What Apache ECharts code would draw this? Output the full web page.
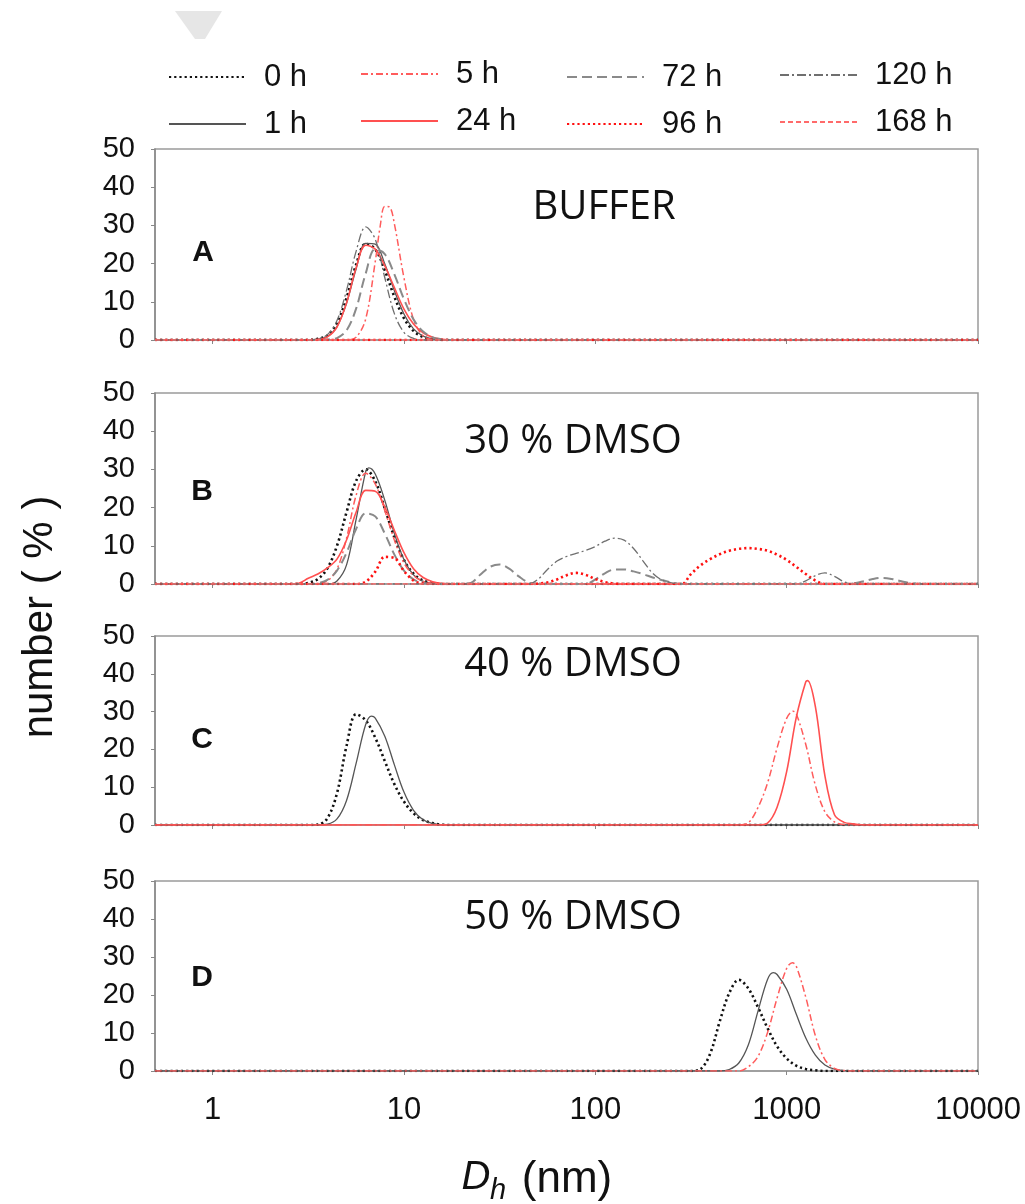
<!DOCTYPE html>
<html><head><meta charset="utf-8">
<script src="https://cdn.jsdelivr.net/npm/echarts@6/dist/echarts.min.js"></script>
<style>html,body{margin:0;padding:0;background:#fff}#c{width:1025px;height:1204px}</style>
</head><body><div id="c"></div>
<script>
// ---------- labels / ticks ----------
const panelTitles  = ['BUFFER', '30 % DMSO', '40 % DMSO', '50 % DMSO'];
const panelLetters = ['A', 'B', 'C', 'D'];
const xTickValues  = [1, 10, 100, 1000, 10000];
const seriesNames  = ['0 h', '1 h', '5 h', '24 h', '72 h', '96 h', '120 h', '168 h'];

// ---------- data: [Dh (nm), number %] ----------
// Panel A (buffer)
const A_0h   = [[3.162,0],[3.548,0.3],[3.981,1.2],[4.467,4.4],[5.012,11.0],[5.623,19.7],[6.31,25.2],[7.079,23.8],[7.943,18.2],[8.913,11.3],[10,5.7],[11.22,2.4],[12.59,0.8],[14.13,0.2],[15.85,0]];
const A_1h   = [[3.162,0],[3.548,0.2],[3.981,0.9],[4.467,3.5],[5.012,9.6],[5.623,18.6],[6.31,25.3],[7.079,25.1],[7.943,19.9],[8.913,12.9],[10,6.8],[11.22,2.9],[12.59,1.0],[14.13,0.3],[15.85,0]];
const A_5h   = [[5.012,0],[5.623,0.7],[6.31,5.5],[7.079,20.5],[7.499,29.5],[7.943,35.0],[8.414,34.8],[8.913,30.4],[10,16.3],[11.22,5.4],[12.59,1.1],[14.13,0.1],[15.85,0]];
const A_24h  = [[3.162,0],[3.548,0.1],[3.981,0.8],[4.467,3.4],[5.012,9.7],[5.623,18.9],[6.31,24.8],[7.079,23.8],[7.943,19.4],[8.913,13.7],[10,8.1],[11.22,4.2],[12.59,1.9],[14.13,0.7],[15.85,0.2],[17.78,0]];
const A_72h  = [[3.548,0],[3.981,0.1],[4.467,0.5],[5.012,2.5],[5.623,8.2],[6.31,17.4],[7.079,23.8],[7.943,22.5],[8.913,17.2],[10,10.7],[11.22,5.4],[12.59,2.2],[14.13,0.7],[15.85,0.2],[17.78,0]];
const A_96h  = [];
const A_120h = [[3.162,0],[3.548,0.3],[3.981,1.4],[4.467,5.1],[5.012,13.0],[5.623,23.2],[6.31,29.6],[7.079,26.4],[7.943,16.3],[8.913,6.9],[10,2.0],[11.22,0.4],[12.59,0]];
const A_168h = [];

// Panel B (30 % DMSO)
const B_0h   = [[2.818,0],[3.162,0.3],[3.548,1.3],[3.981,4.1],[4.467,10.0],[5.012,18.8],[5.623,27.0],[6.31,30.0],[7.079,26.9],[7.943,19.8],[8.913,12.2],[10,6.3],[11.22,2.7],[12.59,0.9],[14.13,0.3],[15.85,0]];
const B_1h   = [[3.981,0],[4.467,0.8],[5.012,5.0],[5.623,16.9],[6.31,29.4],[6.55,30.4],[7.079,28.8],[7.943,21.9],[8.913,13.2],[10,6.4],[11.22,2.4],[12.59,0.7],[14.13,0.2],[15.85,0]];
const B_5h   = [[3.162,0],[3.548,0.1],[3.981,0.8],[4.467,3.9],[5.012,12.0],[5.623,23.2],[6.31,29.0],[7.079,26.2],[7.943,19.2],[8.913,11.5],[10,5.5],[11.22,2.2],[12.59,0.7],[14.13,0.2],[15.85,0]];
const B_24h  = [[2.512,0],[2.818,0.2],[3.162,1.5],[3.548,2.6],[3.981,4.2],[4.467,6.5],[5.012,11.5],[5.623,18.8],[6.31,24.5],[7.079,24.3],[7.943,20.1],[8.913,14.0],[10,8.2],[11.22,4.0],[12.59,1.7],[14.13,0.6],[15.85,0.1],[17.78,0]];
const B_72h  = [[3.162,0],[3.548,0.2],[3.981,1.1],[4.467,3.5],[5.012,8.2],[5.623,14.4],[6.31,18.5],[7.079,17.7],[7.943,13.2],[8.913,7.7],[10,3.5],[11.22,1.2],[12.59,0.3],[14.13,0],
                [19.95,0],[22.39,0.3],[25.12,2.5],[28.18,4.5],[31.62,5.1],[35.48,4.0],[39.81,2.0],[44.67,0.4],[50.12,0],
                [89.13,0],[100,1.2],[112.2,2.8],[125.9,3.8],[141.3,3.8],[158.5,3.3],[177.8,2.6],[199.5,1.7],[223.9,1.0],[251.2,0.4],[281.8,0],
                [1995,0],[2239,0.2],[2512,0.7],[2818,1.3],[3162,1.6],[3548,1.3],[3981,0.7],[4467,0.2],[5012,0]];
const B_96h  = [[5.623,0],[6.31,0.6],[7.079,3.2],[7.943,7.1],[8.913,6.8],[10,3.4],[11.22,0.9],[12.59,0.1],[14.13,0],
                [44.67,0],[50.12,0.1],[56.23,0.4],[63.1,1.2],[70.79,2.3],[79.43,2.9],[89.13,2.4],[100,1.3],[112.2,0.5],[125.9,0.1],[141.3,0],
                [281.8,0],[316.2,2.6],[354.8,4.9],[398.1,6.5],[446.7,7.8],[501.2,8.7],[562.3,9.2],[631,9.4],[707.9,9.2],[794.3,8.7],[891.3,7.7],[1000,6.3],[1122,4.5],[1259,2.6],[1413,0.9],[1585,0]];
const B_120h = [[44.67,0],[50.12,1.2],[56.23,3.8],[63.1,6.0],[70.79,7.2],[79.43,8.0],[89.13,8.8],[100,9.8],[112.2,11.2],[125.9,12.0],[141.3,11.5],[158.5,9.3],[177.8,6.0],[199.5,2.8],[223.9,1.0],[251.2,0.3],[281.8,0],
                [1122,0],[1259,0.8],[1413,2.2],[1585,2.9],[1778,2.0],[1995,0.6],[2239,0]];
const B_168h = [];

// Panel C (40 % DMSO)
const C_0h   = [[3.162,0],[3.548,0.1],[3.981,1.8],[4.467,8.4],[5.012,20.9],[5.623,29.3],[6.31,27.7],[7.079,23.1],[7.943,16.9],[8.913,10.8],[10,6.2],[11.22,3.1],[12.59,1.3],[14.13,0.5],[15.85,0.1],[17.78,0]];
const C_1h   = [[3.548,0],[3.981,0.2],[4.467,1.6],[5.012,6.5],[5.623,16.3],[6.31,26.6],[6.761,28.8],[7.079,28.3],[7.943,23.5],[8.913,15.9],[10,8.7],[11.22,3.9],[12.59,1.4],[14.13,0.4],[15.85,0]];
const C_5h   = [[562.3,0],[631,0.6],[707.9,4.6],[794.3,11.1],[891.3,20.4],[1000,28.2],[1081,30.1],[1122,29.5],[1259,21.3],[1413,10.5],[1585,3.5],[1778,0.8],[1995,0.1],[2239,0]];
const C_24h  = [[707.9,0],[794.3,0.5],[891.3,4.7],[1000,14.1],[1122,28.4],[1259,37.9],[1288,38.2],[1413,31.3],[1585,13.0],[1778,2.7],[1995,0.7],[2239,0.3],[2512,0]];

// Panel D (50 % DMSO)
const D_0h   = [[316.2,0],[354.8,0.5],[398.1,4.5],[446.7,13.0],[501.2,20.5],[562.3,24.0],[631,21.7],[707.9,16.8],[794.3,11.3],[891.3,6.5],[1000,3.3],[1122,1.4],[1259,0.5],[1413,0.2],[1585,0]];
const D_1h   = [[446.7,0],[501.2,0.4],[562.3,2.1],[631,6.9],[707.9,15.7],[794.3,24.1],[851,25.9],[891.3,25.4],[1000,21.5],[1122,15.0],[1259,8.7],[1413,4.2],[1585,1.6],[1778,0.5],[1995,0.1],[2239,0]];
const D_5h   = [[562.3,0],[631,1.1],[707.9,3.8],[794.3,10.1],[891.3,19.2],[1000,27.0],[1072,28.5],[1122,27.6],[1259,19.4],[1413,9.3],[1585,3.0],[1778,0.7],[1995,0.1],[2239,0]];

const panels = [
  {'0 h': A_0h, '1 h': A_1h, '5 h': A_5h, '24 h': A_24h, '72 h': A_72h, '96 h': A_96h, '120 h': A_120h, '168 h': A_168h},
  {'0 h': B_0h, '1 h': B_1h, '5 h': B_5h, '24 h': B_24h, '72 h': B_72h, '96 h': B_96h, '120 h': B_120h, '168 h': B_168h},
  {'0 h': C_0h, '1 h': C_1h, '5 h': C_5h, '24 h': C_24h},
  {'0 h': D_0h, '1 h': D_1h, '5 h': D_5h}
];

// ---------- styles ----------
const lineStyles = {
  '0 h':   {color: '#111111', width: 2.6, type: [2.2, 3]},
  '1 h':   {color: '#555555', width: 1.3, type: 'solid'},
  '5 h':   {color: '#ff5c5c', width: 1.5, type: [7, 3, 2, 3]},
  '24 h':  {color: '#ff5050', width: 1.6, type: 'solid'},
  '72 h':  {color: '#8a8a8a', width: 2.0, type: [10, 5]},
  '96 h':  {color: '#ff1010', width: 2.6, type: [2.2, 3]},
  '120 h': {color: '#6f6f6f', width: 1.3, type: [9, 3, 2, 3]},
  '168 h': {color: '#ff6a6a', width: 1.5, type: [5, 3]}
};
const gridTops = [149, 393, 636, 881];
const gridHeights = [191, 191, 189, 190];
const LABEL_FONT = 'Liberation Sans';

const grids = [], xAxes = [], yAxes = [], series = [];
panels.forEach((p, i) => {
  grids.push({left: 155, right: 47, top: gridTops[i], height: gridHeights[i],
    show: true, borderColor: '#9a9a9a', borderWidth: 1.5, backgroundColor: 'transparent'});
  xAxes.push({type: 'log', logBase: 10, gridIndex: i, min: 0.5, max: 10000,
    axisLine: {show: true, lineStyle: {color: '#9a9a9a', width: 1.5}},
    axisTick: {show: true, customValues: xTickValues, length: 4, lineStyle: {color: '#888'}},
    minorTick: {show: false},
    axisLabel: {show: i === 3, customValues: xTickValues, formatter: v => String(Math.round(v)),
      fontSize: 31, fontFamily: LABEL_FONT, color: '#111', margin: 24},
    splitLine: {show: false}});
  yAxes.push({type: 'value', gridIndex: i, min: 0, max: 50, interval: 10,
    axisLine: {show: true, lineStyle: {color: '#888', width: 1.5}},
    axisTick: {show: true, length: 4, lineStyle: {color: '#888'}},
    axisLabel: {fontSize: 29, fontFamily: LABEL_FONT, color: '#111', margin: 20},
    splitLine: {show: false}});
  seriesNames.forEach(name => {
    if (!(name in p)) return;
    const ls = lineStyles[name];
    series.push({type: 'line', name, xAxisIndex: i, yAxisIndex: i,
      data: [[0.5, 0]].concat(p[name], [[10000, 0]]),
      smooth: 0.35, symbol: 'none', clip: true,
      lineStyle: {color: ls.color, width: ls.width, type: ls.type, cap: 'butt'},
      itemStyle: {color: ls.color}});
  });
});

const legendText = {fontSize: 31, fontFamily: LABEL_FONT, color: '#111', padding: [0, 0, 0, 13], lineHeight: 32};
const legendCols = [[['0 h', '1 h'], 163, 56], [['5 h', '24 h'], 355, 53], [['72 h', '96 h'], 561, 56], [['120 h', '168 h'], 774, 54]];
const legends = legendCols.map(c => ({data: c[0], left: c[1], top: c[2], orient: 'vertical',
  itemWidth: 77, itemHeight: 12, itemGap: 15, selectedMode: false, textStyle: legendText,
  itemStyle: {opacity: 0, borderWidth: 0}}));

function txt(x, y, text, size, family, extra) {
  return {type: 'text', x, y, silent: true, style: Object.assign({
    text, fontSize: size, fontFamily: family, fill: '#111',
    align: 'center', verticalAlign: 'middle', textAlign: 'center', textVerticalAlign: 'middle'}, extra || {})};
}
const titlePos = [[604, 208], [573, 442], [573, 665], [573, 918]];
const letterPos = [[203, 253], [202, 492], [202, 740], [202, 978]];
const graphics = [];
panelTitles.forEach((t, i) => graphics.push(txt(titlePos[i][0], titlePos[i][1], t, 40, 'Open Sans')));
panelLetters.forEach((t, i) => graphics.push(txt(letterPos[i][0], letterPos[i][1], t, 30, LABEL_FONT, {fontWeight: 'bold'})));
graphics.push(Object.assign(txt(40, 617, 'number ( % )', 42, LABEL_FONT), {rotation: Math.PI / 2}));
graphics.push(txt(476, 1178, 'D', 40, LABEL_FONT, {fontStyle: 'italic'}));
graphics.push(txt(498, 1191, 'h', 29, LABEL_FONT, {fontStyle: 'italic'}));
graphics.push(txt(567, 1180, '(nm)', 44, LABEL_FONT));
graphics.push({type: 'polygon', silent: true, shape: {points: [[175, 11], [222, 11], [205, 39], [195, 39]]},
  style: {fill: '#e6e6e6'}});

const chart = echarts.init(document.getElementById('c'), null, {renderer: 'canvas'});
chart.setOption({
  animation: false,
  backgroundColor: '#fff',
  legend: legends,
  grid: grids, xAxis: xAxes, yAxis: yAxes, series,
  graphic: graphics
});
</script></body></html>
